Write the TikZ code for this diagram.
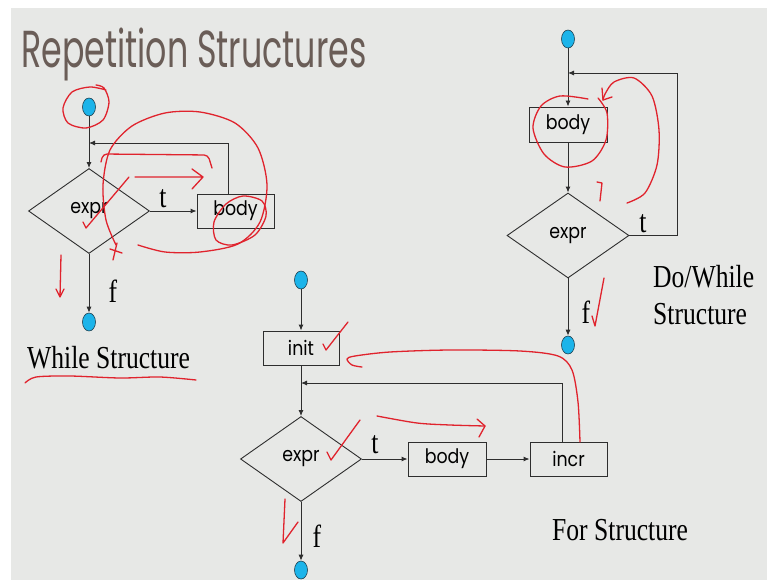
\documentclass[tikz,border=0pt]{standalone}
\usepackage{fontspec}
\usepackage{graphicx}
\setmainfont{Liberation Serif}
\newfontfamily\geofont{Poppins}
\usetikzlibrary{shapes.geometric,arrows.meta}

\definecolor{slidebg}{HTML}{E7E8E6}
\definecolor{titlegray}{HTML}{6A5D57}
\definecolor{flowline}{HTML}{2E2E2E}
\definecolor{dotblue}{HTML}{1CB4EA}
\definecolor{dotrim}{HTML}{20404F}
\definecolor{inkred}{HTML}{E0232D}

% slide text: Times-like captions and geometric sans box labels, both condensed
\newcommand\serifcap[1]{{\fontsize{32}{32}\selectfont\scalebox{0.8}[1]{#1}}}
\newcommand\geolabel[1]{\raisebox{-2pt}{\geofont\fontsize{20}{20}\selectfont\scalebox{0.87}[1]{#1}}}

\tikzset{
  flow/.style={draw=flowline, line width=0.9pt},
  arr/.style={flow, -{Latex[length=6pt,width=5pt]}},
  stepbox/.style={flow, rectangle, inner sep=0pt, minimum height=34pt,
    minimum width=77pt, text=black},
  decision/.style={flow, diamond, inner sep=0pt, minimum width=121pt,
    minimum height=85pt, text=black},
  terminal/.style={ellipse, draw=dotrim, line width=0.6pt, fill=dotblue,
    minimum width=13pt, minimum height=18pt, inner sep=0pt},
  tag/.style={inner sep=0pt, anchor=base, text=black},
  pen/.style={draw=inkred, line width=1.3pt, line cap=round, line join=round},
}

\begin{document}
\begin{tikzpicture}[x=1pt,y=-1pt]
  % page and slide background
  \fill[white] (0,0) rectangle (767,580);
  \fill[slidebg] (11,8) rectangle (767,580);
  \useasboundingbox (0,0) rectangle (767,580);

  % title
  \node[anchor=base west, inner sep=0pt, text=titlegray] (title) at (21,68)
    {\geofont\fontsize{52}{52}\selectfont\scalebox{0.64}[1]{Repetition Structures}};

  % ---------------- while loop ----------------
  \node[terminal] (wtop) at (89,107) {};
  \node[decision] (wexpr) at (89,211) {\geolabel{expr}};
  \node[stepbox] (wbody) at (235.5,211) {\geolabel{body}};
  \node[terminal] (wend) at (89,322) {};
  \coordinate (wjoin) at (89,143);
  \draw[flow] (wtop) -- (wjoin);
  \draw[arr] (wjoin) -- (wexpr.north);
  \draw[arr] (wexpr.east) -- (wbody.west);
  \draw[arr] ([xshift=-7.5pt]wbody.north) |- (wjoin);
  \draw[arr] (wexpr.south) -- (wend);
  \node[tag] (wt) at (163,207) {\serifcap{t}};
  \node[tag] (wf) at (113,302) {\serifcap{f}};
  \node[tag, anchor=base west] (wname) at (27,368) {\serifcap{While Structure}};

  % ---------------- do/while loop ----------------
  \node[terminal] (dtop) at (568,39) {};
  \node[stepbox, minimum width=78pt, minimum height=35pt] (dbody) at (568,124.5) {\geolabel{body}};
  \node[decision, minimum width=122pt] (dexpr) at (568,235.5) {\geolabel{expr}};
  \node[terminal] (dend) at (568,345) {};
  \coordinate (djoin) at (568,73);
  \coordinate (dcorner) at (677,73);
  \draw[flow] (dtop) -- (djoin);
  \draw[arr] (djoin) -- (dbody.north);
  \draw[arr] (dbody.south) -- (dexpr.north);
  \draw[arr] (dexpr.east) -| (dcorner) -- (djoin);
  \draw[arr] (dexpr.south) -- (dend);
  \node[tag] (dt) at (643,232) {\serifcap{t}};
  \node[tag] (df) at (586,323) {\serifcap{f}};
  \node[tag, anchor=base west] (dname1) at (653,287) {\serifcap{Do/While}};
  \node[tag, anchor=base west] (dname2) at (653,324) {\serifcap{Structure}};

  % ---------------- for loop ----------------
  \node[terminal] (ftop) at (301,280) {};
  \node[stepbox, minimum width=76pt] (finit) at (301,348) {\geolabel{init}\hspace{14pt}};
  \node[decision] (fexpr) at (301,459) {\geolabel{expr}};
  \node[stepbox, minimum width=78pt] (fbody) at (447,459) {\geolabel{body}};
  \node[stepbox] (fincr) at (568.5,459) {\geolabel{incr}\hspace{12pt}};
  \node[terminal] (fend) at (301,570) {};
  \coordinate (fjoin) at (301,383);
  \draw[arr] (ftop) -- (finit.north);
  \draw[flow] (finit.south) -- (fjoin);
  \draw[arr] (fjoin) -- (fexpr.north);
  \draw[arr] (fexpr.east) -- (fbody.west);
  \draw[arr] (fbody.east) -- (fincr.west);
  \draw[arr] ([xshift=-6.5pt]fincr.north) |- (fjoin);
  \draw[arr] (fexpr.south) -- (fend);
  \node[tag] (ft) at (375,453) {\serifcap{t}};
  \node[tag] (ff) at (317,547) {\serifcap{f}};
  \node[tag, anchor=base west] (fname) at (552,540) {\serifcap{For Structure}};

  % ---------------- red pen marks ----------------
  % while
  \draw[pen] plot[smooth] coordinates {(106,90) (90,87) (72,92) (63,108) (68,123) (86,128) (103,120) (109,102) (104,88) (96,85)};
  \draw[pen] plot[smooth] coordinates {(138,245) (165,252) (200,252) (238,244) (260,222) (267,185) (258,148) (235,123) (200,112) (165,113) (132,126) (110,150) (103,185) (106,220) (116,245)};
  \draw[pen] (110,249) -- (122,253) (117,243) -- (113,260);
  \draw[pen] plot[smooth cycle] coordinates {(243,196) (262,201) (266,216) (255,235) (232,245) (216,240) (214,222) (226,204)};
  \draw[pen] (135,177) -- (203,177) (192,169) -- (203,177) -- (192,189);
  \draw[pen, rounded corners=4pt] (101,162) -- (103,154) -- (208,155) -- (212,168);
  \draw[pen] (83,222) -- (86,228) -- (129,177);
  \draw[pen] (61,255) -- (60,297) (56,289) -- (60,297) -- (64,289);
  \draw[pen] plot[smooth] coordinates {(25,383) (36,377) (70,376) (120,378) (160,377) (196,380)};
  % do/while
  \draw[pen] plot[smooth] coordinates {(588,99) (560,96) (541,106) (533,128) (544,154) (565,167) (592,161) (606,140) (607,113) (598,98)};
  \draw[pen] plot[smooth] coordinates {(627,203) (645,193) (657,165) (659,130) (652,96) (634,78) (614,82) (605,94) (603,100)};
  \draw[pen] (602,88) -- (603,100) -- (612,97);
  \draw[pen] (597,182) -- (602,183) -- (600,201);
  \draw[pen] (592,316) -- (595,326) -- (604,278);
  % for
  \draw[pen] (323,344) -- (326,350) -- (348,322);
  \draw[pen] plot[smooth] coordinates {(580,442) (578,402) (572,370) (558,356) (520,351) (450,350) (390,352) (355,356) (347,359) (352,365) (362,367)};
  \draw[pen] (327,452) -- (331,460) -- (360,420);
  \draw[pen] plot[smooth] coordinates {(377,416) (417,423) (450,425) (485,426)};
  \draw[pen] (477,419) -- (485,426) -- (479,437);
  \draw[pen] (285,499) -- (283,543) -- (298,522);
\end{tikzpicture}
\end{document}
